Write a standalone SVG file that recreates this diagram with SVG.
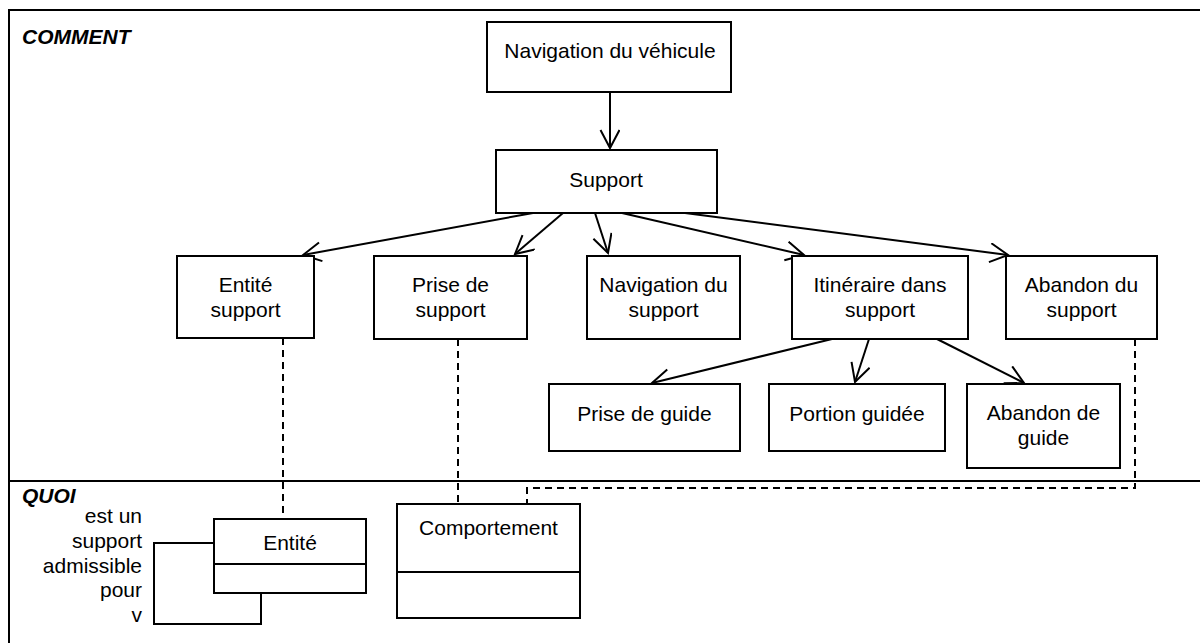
<svg xmlns="http://www.w3.org/2000/svg" width="1200" height="643" viewBox="0 0 1200 643">
<style>
text{font-family:"Liberation Sans",Arial,sans-serif;font-size:21px;fill:#000}
.c{text-anchor:middle}
.e{text-anchor:end}
.t{font-weight:bold;font-style:italic}
.box{fill:#fff;stroke:#000;stroke-width:2}
.ln{fill:none;stroke:#000;stroke-width:2}
.arr{fill:none;stroke:#000;stroke-width:2;marker-end:url(#open)}
.dash{fill:none;stroke:#000;stroke-width:2;stroke-dasharray:7 5}
</style>
<defs>
<marker id="open" markerUnits="userSpaceOnUse" markerWidth="24" markerHeight="24" refX="20" refY="10" orient="auto" viewBox="0 0 24 24">
<path d="M2,0.5 L20,10 L2,19.5" fill="none" stroke="#000" stroke-width="2"/>
</marker>
</defs>
<rect width="1200" height="643" fill="#fff"/>
<g id="frame">
<rect x="9" y="10" width="1220" height="660" class="ln"/>
<line x1="9" y1="481" x2="1200" y2="481" class="ln"/>
<text x="22" y="44" class="t">COMMENT</text>
<text x="22" y="503" class="t">QUOI</text>
</g>
<g id="connectors">
<line x1="610" y1="92" x2="610" y2="148" class="arr"/>
<line x1="533" y1="213" x2="303" y2="255" class="arr"/>
<line x1="563" y1="213" x2="515" y2="254" class="arr"/>
<line x1="595" y1="213" x2="608" y2="253" class="arr"/>
<line x1="622" y1="213" x2="804" y2="255" class="arr"/>
<line x1="685" y1="213" x2="1008" y2="255" class="arr"/>
<line x1="832" y1="339" x2="652" y2="383" class="arr"/>
<line x1="869" y1="339" x2="855" y2="382" class="arr"/>
<line x1="937" y1="339" x2="1024" y2="383" class="arr"/>
<path d="M283,338 V519" class="dash"/>
<path d="M458,339 V504" class="dash"/>
<path d="M1135,339 V488 H527 V504" class="dash"/>
<path d="M214,543 H154 V624 H261 V593" class="ln"/>
</g>
<g id="navigation-vehicule">
<rect x="487" y="22" width="244" height="70" class="box"/>
<text x="610" y="58" class="c">Navigation du véhicule</text>
</g>
<g id="support">
<rect x="496" y="150" width="221" height="63" class="box"/>
<text x="606" y="187" class="c">Support</text>
</g>
<g id="entite-support">
<rect x="177" y="256" width="137" height="82" class="box"/>
<text x="245.5" y="292" class="c">Entité</text>
<text x="245.5" y="317" class="c">support</text>
</g>
<g id="prise-support">
<rect x="374" y="256" width="153" height="83" class="box"/>
<text x="450.5" y="292" class="c">Prise de</text>
<text x="450.5" y="317" class="c">support</text>
</g>
<g id="navigation-support">
<rect x="587" y="256" width="153" height="83" class="box"/>
<text x="663.5" y="292" class="c">Navigation du</text>
<text x="663.5" y="317" class="c">support</text>
</g>
<g id="itineraire">
<rect x="792" y="256" width="176" height="83" class="box"/>
<text x="880" y="292" class="c">Itinéraire dans</text>
<text x="880" y="317" class="c">support</text>
</g>
<g id="abandon-support">
<rect x="1006" y="256" width="151" height="83" class="box"/>
<text x="1081.5" y="292" class="c">Abandon du</text>
<text x="1081.5" y="317" class="c">support</text>
</g>
<g id="prise-guide">
<rect x="549" y="384" width="191" height="67" class="box"/>
<text x="644.5" y="421" class="c">Prise de guide</text>
</g>
<g id="portion-guidee">
<rect x="769" y="384" width="176" height="67" class="box"/>
<text x="857" y="421" class="c">Portion guidée</text>
</g>
<g id="abandon-guide">
<rect x="967" y="384" width="153" height="84" class="box"/>
<text x="1043.5" y="420" class="c">Abandon de</text>
<text x="1043.5" y="445" class="c">guide</text>
</g>
<g id="entite">
<rect x="214" y="519" width="152" height="74" class="box"/>
<line x1="214" y1="564" x2="366" y2="564" class="ln"/>
<text x="290" y="550" class="c">Entité</text>
</g>
<g id="comportement">
<rect x="397" y="504" width="183" height="114" class="box"/>
<line x1="397" y1="572" x2="580" y2="572" class="ln"/>
<text x="488.5" y="535" class="c">Comportement</text>
</g>
<g id="assoc-label">
<text x="142" y="523" class="e">est un</text>
<text x="142" y="548" class="e">support</text>
<text x="142" y="572.5" class="e">admissible</text>
<text x="142" y="597" class="e">pour</text>
<text x="142" y="621.5" class="e">v</text>
</g>
</svg>
